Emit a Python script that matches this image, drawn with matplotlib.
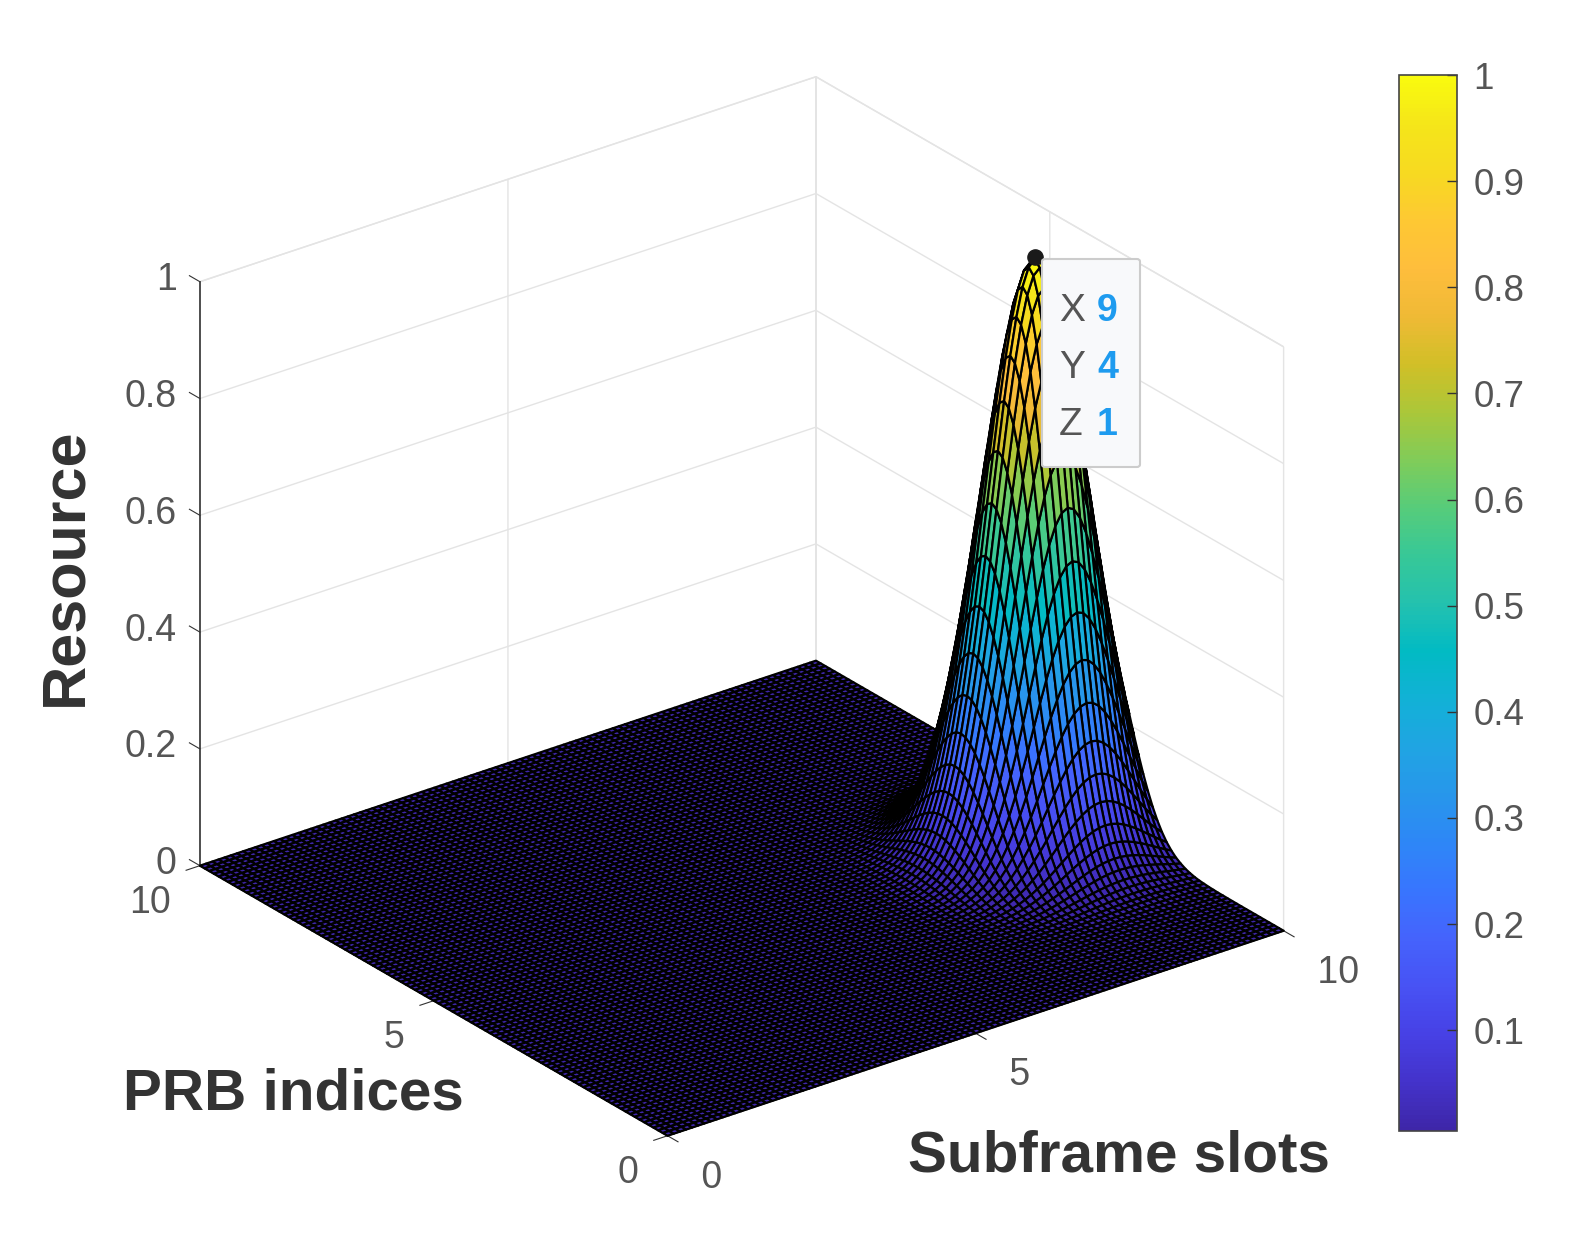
import numpy as np
import matplotlib
matplotlib.use('Agg')
import matplotlib.pyplot as plt
from matplotlib.colors import LinearSegmentedColormap, Normalize
from matplotlib.patches import FancyBboxPatch

plt.rcParams['font.family'] = ['Liberation Sans', 'DejaVu Sans']

# Chart values
x_slots = np.linspace(0, 10, 101)
y_prbs = np.linspace(0, 10, 101)
peak_x_index = 90
peak_y_index = 40
# height falloff per 0.1 step away from the peak, zero after that
peak_falloff = [1.000, 0.990, 0.960, 0.912, 0.849, 0.775, 0.693, 0.607, 0.520, 0.437,
                0.360, 0.291, 0.230, 0.178, 0.135, 0.100, 0.073, 0.052, 0.037, 0.025,
                0.017, 0.011, 0.007, 0.005, 0.003, 0.002, 0.001, 0.001, 0.0005, 0.0003, 0.0001]
axis_ticks = [0, 5, 10]
x_tick_labels = [' 0', ' 5', ' 10']
z_ticks = [0, 0.2, 0.4, 0.6, 0.8, 1]
z_tick_labels = ['0', '0.2', '0.4', '0.6', '0.8', '1']
cbar_ticks = [0.1, 0.2, 0.3, 0.4, 0.5, 0.6, 0.7, 0.8, 0.9, 1]
cbar_tick_labels = ['0.1', '0.2', '0.3', '0.4', '0.5', '0.6', '0.7', '0.8', '0.9', '1']
tip_rows = [('X', '9'), ('Y', '4'), ('Z', '1')]

parula_colors = [(0.2422, 0.1504, 0.6603), (0.2647, 0.1978, 0.7952), (0.2783, 0.2559, 0.8991),
                 (0.2810, 0.3228, 0.9579), (0.2699, 0.3892, 0.9906), (0.2206, 0.4603, 0.9973),
                 (0.1786, 0.5289, 0.9682), (0.1540, 0.5902, 0.9218), (0.1248, 0.6459, 0.8883),
                 (0.0689, 0.6948, 0.8394), (0.0067, 0.7312, 0.7660), (0.1408, 0.7584, 0.6842),
                 (0.2161, 0.7843, 0.5923), (0.3406, 0.8008, 0.4789), (0.5044, 0.7993, 0.3480),
                 (0.6720, 0.7793, 0.2227), (0.8203, 0.7498, 0.1535), (0.9393, 0.7288, 0.2100),
                 (0.9956, 0.7434, 0.2371), (0.9952, 0.7861, 0.1991), (0.9676, 0.8545, 0.1291),
                 (0.9610, 0.9000, 0.1000), (0.9763, 0.9831, 0.0538)]
parula = LinearSegmentedColormap.from_list('parula', parula_colors, N=256)

W, H = 1592, 1236
falloff = np.array(peak_falloff)
x_profile = np.zeros(len(x_slots))
y_profile = np.zeros(len(y_prbs))
for i in range(len(x_slots)):
    if abs(i - peak_x_index) < len(falloff):
        x_profile[i] = falloff[abs(i - peak_x_index)]
for i in range(len(y_prbs)):
    if abs(i - peak_y_index) < len(falloff):
        y_profile[i] = falloff[abs(i - peak_y_index)]
Z = np.outer(y_profile, x_profile)
X, Y = np.meshgrid(x_slots, y_prbs)

plt.rcParams['grid.color'] = '#e4e4e4'
plt.rcParams['grid.linewidth'] = 1.0

fig = plt.figure(figsize=(W / 100, H / 100), dpi=100, facecolor='white')

# surface axes, centred on the box of the picture
side = 1240
ax = fig.add_axes([105 / W, -7 / H, side / W, side / H], projection='3d', proj_type='ortho')
ax.patch.set_alpha(0)
ax.view_init(elev=26, azim=-127.2)
ax.set_box_aspect((1, 1, 0.84), zoom=0.996)
ax.computed_zorder = False

norm = Normalize(vmin=0.005, vmax=1)
surf = ax.plot_surface(X, Y, Z, cmap=parula, norm=norm, rcount=101, ccount=101,
                       edgecolor='black', linewidth=1.6, shade=False, antialiased=True, zorder=1)
ax.scatter([9], [4], [1.004], color='#1a1a1a', s=120, depthshade=False, zorder=5)

ax.set_xlim(0, 10)
ax.set_ylim(0, 10)
ax.set_zlim(0, 1)
ax.set_xticks(axis_ticks)
ax.set_xticklabels(x_tick_labels)
ax.set_yticks(axis_ticks)
ax.set_zticks(z_ticks)
ax.set_zticklabels(z_tick_labels)
# z ticks run along the y direction in the reference
ax.zaxis._get_tickdir = lambda position: 1
ax.tick_params(labelsize=27, labelcolor='#555555', color='#333333')
ax.tick_params(axis='x', pad=15)
ax.tick_params(axis='y', pad=14)
ax.tick_params(axis='z', pad=2)
for lbl in ax.xaxis.get_ticklabels():
    lbl.set_va('center')
    lbl.set_ha('left')
for lbl in ax.yaxis.get_ticklabels():
    lbl.set_va('center')
    lbl.set_ha('right')
for lbl in ax.zaxis.get_ticklabels():
    lbl.set_va('center')
    lbl.set_ha('right')
for axis in (ax.xaxis, ax.yaxis, ax.zaxis):
    axis.set_pane_color((1, 1, 1, 1))
    axis.pane.set_edgecolor('#e4e4e4')
    axis.line.set_color('#333333')
    axis.line.set_linewidth(1.2)
# floor ticks point away from the surface, which here is the inward side for mplot3d
for axis in (ax.xaxis, ax.yaxis):
    axis._axinfo['tick']['inward_factor'] = 0.28
    axis._axinfo['tick']['outward_factor'] = 0.0
ax.zaxis._axinfo['tick']['inward_factor'] = 0.0
ax.zaxis._axinfo['tick']['outward_factor'] = 0.28

# colour bar
cax = fig.add_axes([1399 / W, 1 - 1131 / H, 58 / W, 1056 / H])
cb = fig.colorbar(surf, cax=cax)
cb.set_ticks(cbar_ticks)
cb.set_ticklabels(cbar_tick_labels)
cb.ax.tick_params(direction='in', length=7, width=1, color='#333333', labelsize=26.5,
                  labelcolor='#555555', pad=12)
cb.outline.set_edgecolor('#444444')
cb.outline.set_linewidth(1.2)

# data tip
tip = FancyBboxPatch((1042 / W, 1 - 467 / H), 98 / W, 208 / H, transform=fig.transFigure,
                     boxstyle='round,pad=0,rounding_size=0.002', facecolor='#f8f9fb',
                     edgecolor='#cccccc', linewidth=1.5, zorder=10)
fig.patches.append(tip)
tip_tops = [311, 368, 425]
for (name, value), py in zip(tip_rows, tip_tops):
    fig.text(1059 / W, 1 - py / H, name, fontsize=28, color='#555555', ha='left', va='center', zorder=11)
    fig.text(1097 / W, 1 - py / H, value, fontsize=27, color='#1e9bef', fontweight='bold',
             ha='left', va='center', zorder=11)

# axis titles
fig.text(66 / W, 1 - 567 / H, 'Resource', fontsize=44, fontweight='bold', color='#333333',
         rotation=90, ha='center', va='center')
fig.text(293 / W, 1 - 1095 / H, 'PRB indices', fontsize=42, fontweight='bold', color='#333333',
         ha='center', va='center')
fig.text(1119 / W, 1 - 1157 / H, 'Subframe slots', fontsize=42, fontweight='bold', color='#333333',
         ha='center', va='center')

fig.savefig('out.png', dpi=100)
